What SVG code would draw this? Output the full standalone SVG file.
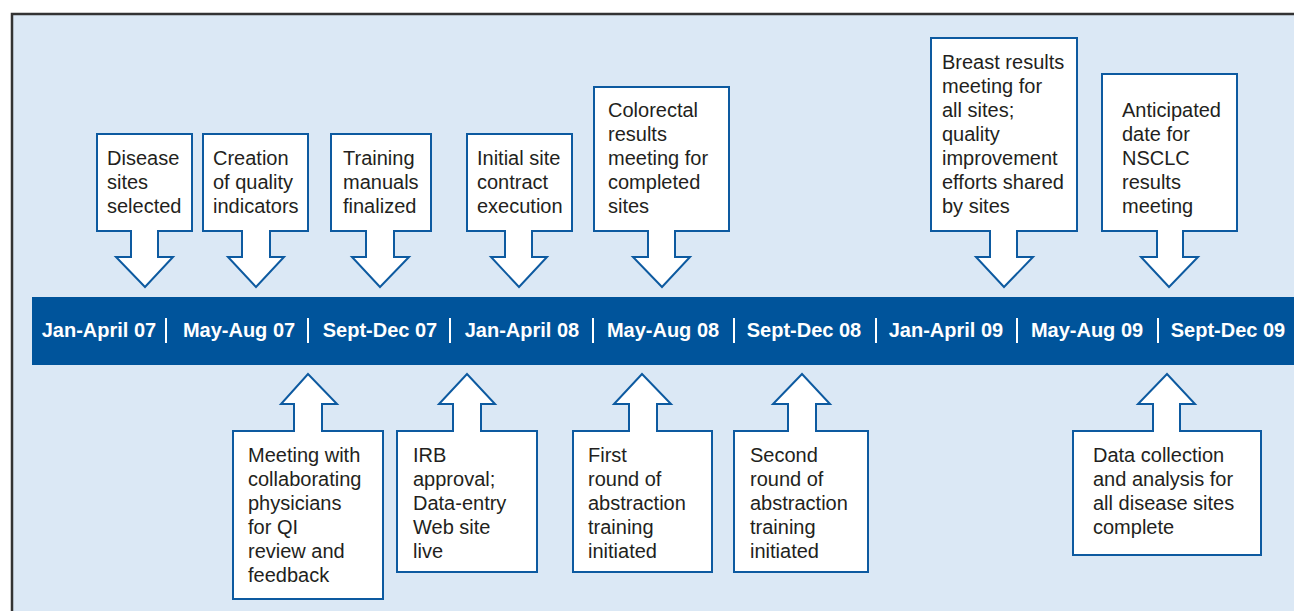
<svg xmlns="http://www.w3.org/2000/svg" width="1294" height="611" viewBox="0 0 1294 611">
<style>
.node path{fill:#ffffff;stroke:#0d5aa0;stroke-width:2;stroke-linejoin:miter}
.node text{font-family:"Liberation Sans",Arial,sans-serif;font-size:20px;fill:#231f20}
.date{font-family:"Liberation Sans",Arial,sans-serif;font-size:20px;font-weight:bold;fill:#ffffff;text-anchor:middle}
.sep{stroke:#ffffff;stroke-width:2}
</style>
<rect x="0" y="0" width="1294" height="611" fill="#ffffff"/>
<rect x="12" y="14" width="1300" height="620" fill="#dbe8f5" stroke="#333333" stroke-width="2.5"/>
<g id="timeline">
<rect x="32" y="297" width="1270" height="68" fill="#00549b"/>
<text class="date" x="99" y="337">Jan-April 07</text>
<text class="date" x="239" y="337">May-Aug 07</text>
<text class="date" x="380" y="337">Sept-Dec 07</text>
<text class="date" x="522" y="337">Jan-April 08</text>
<text class="date" x="663" y="337">May-Aug 08</text>
<text class="date" x="804" y="337">Sept-Dec 08</text>
<text class="date" x="946" y="337">Jan-April 09</text>
<text class="date" x="1087" y="337">May-Aug 09</text>
<text class="date" x="1228" y="337">Sept-Dec 09</text>
<line class="sep" x1="166" y1="318" x2="166" y2="343"/>
<line class="sep" x1="308" y1="318" x2="308" y2="343"/>
<line class="sep" x1="450" y1="318" x2="450" y2="343"/>
<line class="sep" x1="593" y1="318" x2="593" y2="343"/>
<line class="sep" x1="734" y1="318" x2="734" y2="343"/>
<line class="sep" x1="876" y1="318" x2="876" y2="343"/>
<line class="sep" x1="1017" y1="318" x2="1017" y2="343"/>
<line class="sep" x1="1158" y1="318" x2="1158" y2="343"/>
</g>
<g id="connectors"></g>
<g id="n1" class="node">
<path d="M97,134 H192 V231 H158 V257 H173 L145,287 L116,257 H131 V231 H97 Z"/>
<text x="107" y="165">Disease</text><text x="107" y="189">sites</text><text x="107" y="213">selected</text>
</g>
<g id="n2" class="node">
<path d="M203,134 H308 V231 H270 V257 H284 L256,287 L228,257 H242 V231 H203 Z"/>
<text x="213" y="165">Creation</text><text x="213" y="189">of quality</text><text x="213" y="213">indicators</text>
</g>
<g id="n3" class="node">
<path d="M331,134 H431 V231 H394 V257 H409 L380,287 L352,257 H366 V231 H331 Z"/>
<text x="343" y="165">Training</text><text x="343" y="189">manuals</text><text x="343" y="213">finalized</text>
</g>
<g id="n4" class="node">
<path d="M467,134 H572 V231 H532 V257 H547 L519,287 L491,257 H505 V231 H467 Z"/>
<text x="477" y="165">Initial site</text><text x="477" y="189">contract</text><text x="477" y="213">execution</text>
</g>
<g id="n5" class="node">
<path d="M594,87 H729 V231 H675 V257 H690 L662,287 L633,257 H648 V231 H594 Z"/>
<text x="608" y="117">Colorectal</text><text x="608" y="141">results</text><text x="608" y="165">meeting for</text><text x="608" y="189">completed</text><text x="608" y="213">sites</text>
</g>
<g id="n6" class="node">
<path d="M931,38 H1077 V231 H1017 V257 H1033 L1004,287 L976,257 H990 V231 H931 Z"/>
<text x="942" y="69">Breast results</text><text x="942" y="93">meeting for</text><text x="942" y="117">all sites;</text><text x="942" y="141">quality</text><text x="942" y="165">improvement</text><text x="942" y="189">efforts shared</text><text x="942" y="213">by sites</text>
</g>
<g id="n7" class="node">
<path d="M1102,74 H1237 V231 H1183 V257 H1198 L1169,287 L1141,257 H1157 V231 H1102 Z"/>
<text x="1122" y="117">Anticipated</text><text x="1122" y="141">date for</text><text x="1122" y="165">NSCLC</text><text x="1122" y="189">results</text><text x="1122" y="213">meeting</text>
</g>
<g id="n8" class="node">
<path d="M233,431 H294 V404 H281 L308,374 L337,404 H322 V431 H383 V599 H233 Z"/>
<text x="248" y="462">Meeting with</text><text x="248" y="486">collaborating</text><text x="248" y="510">physicians</text><text x="248" y="534">for QI</text><text x="248" y="558">review and</text><text x="248" y="582">feedback</text>
</g>
<g id="n9" class="node">
<path d="M397,431 H453 V404 H439 L467,374 L495,404 H481 V431 H537 V572 H397 Z"/>
<text x="413" y="462">IRB</text><text x="413" y="486">approval;</text><text x="413" y="510">Data-entry</text><text x="413" y="534">Web site</text><text x="413" y="558">live</text>
</g>
<g id="n10" class="node">
<path d="M573,431 H629 V404 H614 L642,374 L671,404 H657 V431 H712 V572 H573 Z"/>
<text x="588" y="462">First</text><text x="588" y="486">round of</text><text x="588" y="510">abstraction</text><text x="588" y="534">training</text><text x="588" y="558">initiated</text>
</g>
<g id="n11" class="node">
<path d="M734,431 H788 V404 H773 L802,374 L830,404 H816 V431 H868 V572 H734 Z"/>
<text x="750" y="462">Second</text><text x="750" y="486">round of</text><text x="750" y="510">abstraction</text><text x="750" y="534">training</text><text x="750" y="558">initiated</text>
</g>
<g id="n12" class="node">
<path d="M1073,431 H1153 V404 H1138 L1167,374 L1195,404 H1180 V431 H1261 V555 H1073 Z"/>
<text x="1093" y="462">Data collection</text><text x="1093" y="486">and analysis for</text><text x="1093" y="510">all disease sites</text><text x="1093" y="534">complete</text>
</g>
</svg>
